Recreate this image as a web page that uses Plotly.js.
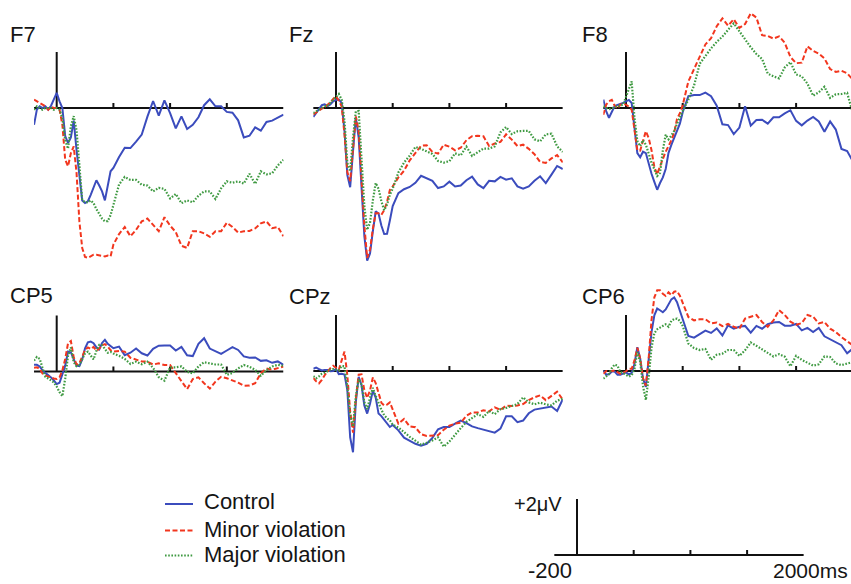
<!DOCTYPE html>
<html>
<head>
<meta charset="utf-8">
<script src="https://cdn.plot.ly/plotly-3.0.1.min.js"></script>
<style>html,body{margin:0;padding:0;background:#fff;}#chart{width:851px;height:584px;}</style>
</head>
<body>
<div id="chart"></div>
<script>
// time points (ms)
const timeMs = [-200,-175,-150,-125,-100,-75,-50,-25,0,25,50,75,100,125,150,175,200,225,250,275,300,325,350,375,400,425,450,475,500,
  550,600,650,700,750,800,850,900,950,1000,1050,1100,1150,1200,1250,1300,1350,1400,1450,1500,1550,1600,1650,1700,1750,1800,1850,1900,1950,2000];

const seriesNames = ['Control', 'Minor violation', 'Major violation'];
const channelNames = ['F7', 'Fz', 'F8', 'CP5', 'CPz', 'CP6'];

// amplitudes (µV)
const f7_control = [-0.6,-0.06,0.06,0,0.06,-0.06,0.08,0.3,0.54,0.24,0,-1.0,-1.25,-1.05,-0.45,-1.5,-2.44,-3.3,-3.39,-3.33,-3.1,-2.8,-2.58,-2.77,-2.98,-3.3,-2.8,-2.26,-2.14,
  -1.75,-1.42,-1.43,-1.2,-0.95,-0.31,0.25,-0.27,0.27,-0.18,-0.73,-0.3,-0.75,-0.6,-0.33,0.1,0.31,0.06,0.06,-0.14,-0.17,-0.44,-1.05,-0.99,-0.69,-0.81,-0.5,-0.45,-0.33,-0.24];
const f7_minor = [0.3,0.24,0.2,0.12,0.06,-0.06,0.04,0,0,-0.06,-0.6,-1.85,-2.08,-1.61,-1.37,-2.32,-4.05,-5.0,-5.32,-5.35,-5.3,-5.24,-5.24,-5.26,-5.27,-5.3,-5.27,-5.3,-4.88,
  -4.5,-4.25,-4.58,-4.35,-4.05,-3.95,-4.17,-4.4,-3.9,-4.2,-4.43,-4.92,-5.0,-4.4,-4.4,-4.48,-4.6,-4.4,-4.4,-4.1,-4.25,-4.45,-4.4,-4.39,-4.3,-4.12,-4.05,-4.29,-4.25,-4.58];
const f7_major = [-0.06,0.06,0,-0.06,0,0,0,-0.06,0,-0.06,-0.36,-1.15,-1.45,-0.65,-0.29,-0.8,-2.02,-3.29,-3.36,-3.37,-3.3,-3.4,-3.61,-3.8,-3.95,-4.05,-4.04,-3.83,-3.46,
  -2.73,-2.46,-2.57,-2.57,-2.74,-2.77,-2.98,-2.85,-2.89,-3.23,-3.07,-3.4,-3.3,-3.37,-3.13,-2.98,-2.98,-3.25,-2.87,-2.62,-2.67,-2.62,-2.7,-2.35,-2.71,-2.26,-2.37,-2.33,-2.05,-1.85];

const fz_control = [-0.32,-0.18,-0.04,0.1,0.13,0.07,0.13,0.24,0.29,0.3,0.18,-0.83,-2.4,-2.83,-1.55,-0.33,-1.06,-2.74,-4.58,-5.45,-5.2,-4.4,-3.69,-3.77,-4.2,-4.5,-4.49,-4.02,-3.5,
  -3.04,-2.9,-2.82,-2.67,-2.42,-2.5,-2.6,-2.86,-2.8,-2.63,-2.8,-2.77,-2.58,-2.45,-2.73,-2.86,-2.6,-2.62,-2.46,-2.56,-2.51,-2.8,-2.88,-2.8,-2.6,-2.44,-2.68,-2.38,-2.07,-2.18];
const fz_minor = [-0.23,-0.15,-0.08,-0.02,0.02,0.1,0.2,0.32,0.42,0.26,0.06,-0.95,-2.29,-2.61,-1.31,-0.3,-0.82,-2.44,-4.2,-5.35,-5.06,-4.31,-3.76,-3.76,-3.82,-3.65,-3.35,-2.93,-2.8,
  -2.48,-2.24,-1.87,-1.6,-1.35,-1.33,-1.57,-1.63,-1.31,-1.38,-1.51,-1.42,-1.15,-1.01,-0.99,-1.01,-1.36,-1.27,-1.21,-0.94,-1.13,-1.36,-1.31,-1.46,-1.65,-1.93,-1.96,-1.8,-1.68,-1.94];
const fz_major = [-0.18,-0.12,-0.06,0,0.06,0.08,0.18,0.3,0.39,0.5,0.3,-0.46,-1.96,-2.26,-1.06,-0.12,-0.11,-1.73,-3.5,-4.35,-4.1,-3.3,-2.68,-2.88,-3.33,-3.65,-3.45,-3.1,-2.88,
  -2.3,-1.95,-1.7,-1.39,-1.46,-1.55,-1.64,-1.89,-1.95,-1.9,-1.62,-1.69,-1.38,-1.71,-1.58,-1.45,-1.45,-1.37,-0.87,-0.68,-0.93,-0.83,-0.82,-0.82,-1.12,-1.19,-0.94,-0.92,-1.37,-1.57];

const f8_control = [0.3,-0.11,-0.35,-0.15,0.07,0.11,0.14,0.18,0.24,0.29,0.18,-0.63,-1.61,-1.76,-1.56,-1.61,-2.0,-2.35,-2.64,-2.92,-2.68,-2.48,-2.18,-1.6,-1.32,-1.07,-0.87,-0.56,-0.15,
  0.42,0.46,0.46,0.55,0.42,0.08,-0.58,-0.61,-0.93,-0.7,0.06,-0.63,-0.43,-0.42,-0.56,-0.33,-0.33,-0.19,-0.08,-0.46,-0.62,-0.45,-0.32,-0.48,-0.85,-0.48,-0.77,-1.46,-1.54,-1.9];
const f8_minor = [-0.24,0.12,0.24,0.29,0.08,-0.02,0.12,0.15,0.12,0.05,-0.06,-0.87,-1.51,-1.52,-1.13,-0.83,-1.07,-1.51,-2.11,-2.37,-2.08,-1.79,-1.56,-1.36,-1.15,-0.87,-0.39,-0.19,0.1,
  0.95,1.39,1.81,2.27,2.49,2.92,3.2,2.94,3.17,2.86,3.0,3.38,3.23,2.6,2.57,2.48,2.56,2.33,1.82,1.6,1.62,2.2,2.04,1.94,1.77,1.39,1.29,1.33,1.24,1.01];
const f8_major = [0.06,0.02,-0.04,-0.02,0.04,0.06,0.1,0.12,0.4,0.7,0.95,-0.36,-1.18,-1.36,-1.15,-1.31,-1.65,-1.95,-2.19,-2.43,-2.32,-1.51,-0.95,-1.12,-0.98,-0.82,-0.56,-0.31,-0.11,
  0.3,0.8,1.58,1.86,2.13,2.36,2.55,2.79,3.02,2.74,2.44,2.17,1.93,1.75,1.23,1.13,1.06,1.45,1.64,1.2,1.13,0.87,0.44,0.56,0.76,0.36,0.49,0.5,0.54,-0.18];

const cp5_control = [0.24,0.24,0.18,0.04,-0.05,-0.12,-0.21,-0.32,-0.45,-0.4,-0.11,0.21,0.71,0.68,0.44,0.21,0.19,0.43,0.83,1.04,1.07,1.01,0.86,0.79,1.02,1.13,0.99,0.92,0.83,
  0.89,0.58,0.67,0.82,0.65,0.57,0.81,0.92,0.93,0.93,0.75,0.88,0.58,0.55,0.99,1.19,0.82,0.73,0.63,0.75,0.87,0.77,0.54,0.49,0.5,0.38,0.4,0.31,0.36,0.24];
const cp5_minor = [0.13,0.15,0.1,-0.07,-0.14,-0.18,-0.21,-0.25,-0.27,-0.21,0.04,0.45,1.01,1.09,0.51,0.25,0.29,0.54,0.77,0.86,0.8,0.88,0.74,0.81,0.94,0.98,0.89,0.76,0.71,
  0.73,0.71,0.49,0.43,0.36,0.35,0.25,0.29,0.23,0.23,-0.05,-0.32,-0.63,-0.27,-0.21,-0.42,-0.61,-0.36,-0.19,-0.24,-0.31,-0.4,-0.51,-0.5,-0.42,-0.06,0.11,0.06,0.12,0.18];
const cp5_major = [0.39,0.52,0.45,0.13,-0.19,-0.25,-0.32,-0.39,-0.54,-0.74,-0.88,-0.25,0.56,0.86,0.33,0.19,0.23,0.43,0.65,0.71,0.56,0.43,0.74,0.95,0.94,0.79,0.67,0.7,0.64,
  0.56,0.45,0.27,0.35,0.26,0.35,0.13,-0.2,-0.33,0.15,0.15,0.18,-0.01,-0.07,0.18,0.33,0.29,0.25,0.25,-0.12,-0.05,0.11,0.23,0.17,0.06,-0.15,0.05,0.18,0.24,0.2];

const cpz_control = [0.08,0.12,0.07,0.02,0.04,0.04,-0.01,0,0.07,-0.11,-0.1,-0.13,-0.68,-2.37,-2.9,-1.1,-0.21,-0.5,-1.23,-1.52,-1.17,-0.7,-0.95,-1.52,-1.61,-1.74,-1.89,-2.0,-1.93,
  -2.12,-2.38,-2.48,-2.6,-2.67,-2.6,-2.39,-2.08,-2.0,-2.0,-1.88,-1.77,-1.86,-1.98,-2.04,-2.1,-2.14,-2.2,-2.06,-1.62,-1.62,-1.83,-1.77,-1.51,-1.38,-1.35,-1.32,-1.27,-1.43,-1.01];
const cpz_minor = [-0.25,-0.37,-0.44,-0.32,-0.15,-0.01,0.1,0.19,0.11,0.04,0.38,0.69,-0.15,-1.45,-2.2,-0.99,-0.13,-0.12,-0.69,-0.96,-0.69,-0.23,-0.43,-0.83,-1.13,-1.23,-1.2,-1.12,-1.39,
  -1.88,-1.71,-1.98,-2.01,-2.26,-2.32,-2.31,-2.29,-2.1,-1.95,-1.88,-1.85,-1.6,-1.48,-1.48,-1.4,-1.44,-1.3,-1.39,-1.24,-1.25,-1.23,-1.18,-1.04,-0.94,-0.87,-1.04,-0.9,-0.74,-1.02];
const cpz_major = [-0.18,-0.26,-0.19,-0.1,-0.06,-0.01,0.05,0.07,0.04,0.02,0.18,0.17,-0.57,-1.57,-1.98,-0.9,-0.29,-0.48,-1.11,-1.36,-0.95,-0.6,-0.89,-1.15,-1.38,-1.58,-1.69,-1.76,-1.92,
  -2.02,-2.19,-2.35,-2.49,-2.63,-2.56,-2.48,-2.37,-2.7,-2.52,-2.26,-2.04,-1.82,-1.69,-1.54,-1.64,-1.43,-1.54,-1.36,-1.32,-1.26,-1.18,-0.94,-1.12,-1.19,-1.13,-1.19,-1.23,-1.06,-0.99];

const cp6_control = [0.02,-0.13,-0.12,-0.02,-0.02,-0.13,-0.13,-0.1,-0.05,-0.12,-0.07,0.26,0.85,0.45,-0.27,-0.57,0.38,1.39,1.99,2.23,2.17,2.1,2.2,2.36,2.56,2.63,2.46,2.15,1.82,
  1.25,1.19,1.32,1.44,1.36,1.52,1.27,1.63,1.51,1.58,1.61,1.37,1.61,1.51,1.67,1.73,1.75,1.62,1.62,1.68,1.45,1.54,1.39,1.54,1.24,1.13,1.05,0.92,0.63,0.8];
const cp6_minor = [-0.1,0,-0.02,-0.01,0.02,-0.04,-0.1,-0.06,-0.01,0.08,0.08,0.38,0.83,0.45,-0.26,-0.52,0.46,1.83,2.63,2.88,2.88,2.76,2.68,2.81,2.71,2.83,2.85,2.69,2.43,
  1.93,1.81,1.85,1.85,1.7,1.73,1.6,1.68,1.58,1.51,1.87,1.94,2.0,1.75,1.58,1.81,2.17,2.0,1.76,1.65,1.71,2.0,1.94,1.7,1.75,1.51,1.39,1.21,1.07,0.92];
const cp6_major = [-0.27,-0.2,-0.11,0.1,0.23,0.19,-0.04,-0.07,-0.12,-0.2,-0.15,0.08,0.67,0.33,-0.54,-1.04,-0.21,0.83,1.35,1.49,1.55,1.62,1.67,1.58,1.79,1.86,1.87,1.79,1.61,
  0.98,0.82,0.75,0.79,0.4,0.58,0.62,0.75,0.75,0.54,0.74,1.02,0.9,0.77,0.62,0.52,0.6,0.51,0.17,0.54,0.4,0.29,0.19,0.24,0.52,0.5,0.27,0.21,0.26,0.32];

const axisTicksMs = [500, 1000, 1500];
const scaleLabels = ['-200', '2000ms', '+2\u03bcV'];

// ---------- layout / styling ----------
const W = 851, H = 584;
const K = 56.7 / 500;      // px per ms
const PXUV = 28;           // px per µV
const FONT = 'Liberation Sans, Arial, Helvetica, sans-serif';
const styles = [
  {color: '#3b4cbd', width: 2, dash: 'solid'},
  {color: '#f2361e', width: 2, dash: '5px,2.5px'},
  {color: '#3f9a42', width: 2.2, dash: '1.6px,1.6px'}
];
const dataByChannel = [
  [f7_control, f7_minor, f7_major],
  [fz_control, fz_minor, fz_major],
  [f8_control, f8_minor, f8_major],
  [cp5_control, cp5_minor, cp5_major],
  [cpz_control, cpz_minor, cpz_major],
  [cp6_control, cp6_minor, cp6_major]
];
// panel geometry in pixels: zero-ms x, baseline y, top, bottom, label position
const geo = [
  {zero: 56.7, base: 108, top: 0, bottom: 282, lx: 8, ly: 35},
  {zero: 336, base: 108, top: 0, bottom: 282, lx: 287, ly: 35},
  {zero: 626, base: 108, top: 0, bottom: 282, lx: 580, ly: 34},
  {zero: 56.7, base: 371.5, top: 282, bottom: 472, lx: 8, ly: 295},
  {zero: 336, base: 371, top: 282, bottom: 472, lx: 287, ly: 296},
  {zero: 626, base: 371, top: 282, bottom: 472, lx: 580, ly: 296}
];

const traces = [];
const layout = {
  width: W, height: H,
  margin: {l: 0, r: 0, t: 0, b: 0},
  paper_bgcolor: '#ffffff', plot_bgcolor: 'rgba(0,0,0,0)',
  showlegend: false,
  shapes: [], annotations: []
};
function axName(i) { return i === 0 ? '' : String(i + 1); }
function addPanel(i, g) {
  const n = axName(i);
  const leftPx = g.zero - 200 * K;
  const rightPx = Math.min(W, g.zero + 2000 * K);
  layout['xaxis' + n] = {
    domain: [leftPx / W, rightPx / W], range: [-200, (rightPx - g.zero) / K],
    visible: false, fixedrange: true, anchor: 'y' + n
  };
  layout['yaxis' + n] = {
    domain: [1 - g.bottom / H, 1 - g.top / H],
    range: [(g.base - g.bottom) / PXUV, (g.base - g.top) / PXUV],
    visible: false, fixedrange: true, anchor: 'x' + n
  };
  const ln = {color: '#111', width: 2};
  const xr = 'x' + n, yr = 'y' + n;
  layout.shapes.push({type: 'line', xref: xr, yref: yr, x0: -210, x1: 2000, y0: 0, y1: 0, line: ln, layer: 'below'});
  layout.shapes.push({type: 'line', xref: xr, yref: yr, x0: 0, x1: 0, y0: 0, y1: 2, line: ln, layer: 'below'});
  axisTicksMs.forEach(t => layout.shapes.push({type: 'line', xref: xr, yref: yr, x0: t, x1: t, y0: 0, y1: 0.18, line: ln, layer: 'below'}));
}

geo.forEach((g, i) => {
  addPanel(i, g);
  const n = axName(i);
  dataByChannel[i].forEach((ys, s) => {
    traces.push({
      type: 'scatter', mode: 'lines', x: timeMs, y: ys,
      xaxis: 'x' + n, yaxis: 'y' + n, name: seriesNames[s],
      line: styles[s], hoverinfo: 'skip', showlegend: false
    });
  });
  layout.annotations.push({
    xref: 'paper', yref: 'paper', x: g.lx / W, y: 1 - g.ly / H,
    xanchor: 'left', yanchor: 'middle', showarrow: false,
    text: channelNames[i], font: {family: FONT, size: 22, color: '#151515'}
  });
});

// scale bar panel
const sb = {zero: 577, base: 555, top: 485, bottom: 572};
addPanel(6, sb);
layout.annotations.push(
  {xref: 'paper', yref: 'paper', x: 550 / W, y: 1 - 570 / H, xanchor: 'center', yanchor: 'middle', showarrow: false,
   text: scaleLabels[0], font: {family: FONT, size: 22, color: '#151515'}},
  {xref: 'paper', yref: 'paper', x: 850 / W, y: 1 - 570 / H, xanchor: 'right', yanchor: 'middle', showarrow: false,
   text: scaleLabels[1], font: {family: FONT, size: 21, color: '#151515'}},
  {xref: 'paper', yref: 'paper', x: 512 / W, y: 1 - 504 / H, xanchor: 'left', yanchor: 'middle', showarrow: false,
   text: scaleLabels[2], font: {family: FONT, size: 20, color: '#151515'}}
);

// legend (drawn manually to match spacing)
const legY = [504, 530.5, 555.5];
const legTextY = [501, 529, 554];
seriesNames.forEach((nm, s) => {
  layout.shapes.push({type: 'line', xref: 'paper', yref: 'paper', x0: 165 / W, x1: 193 / W,
    y0: 1 - legY[s] / H, y1: 1 - legY[s] / H, line: styles[s]});
  layout.annotations.push({xref: 'paper', yref: 'paper', x: 202 / W, y: 1 - legTextY[s] / H,
    xanchor: 'left', yanchor: 'middle', showarrow: false, text: nm,
    font: {family: FONT, size: 22, color: '#151515'}});
});

Plotly.newPlot('chart', traces, layout, {staticPlot: true, displayModeBar: false});
</script>
</body>
</html>
